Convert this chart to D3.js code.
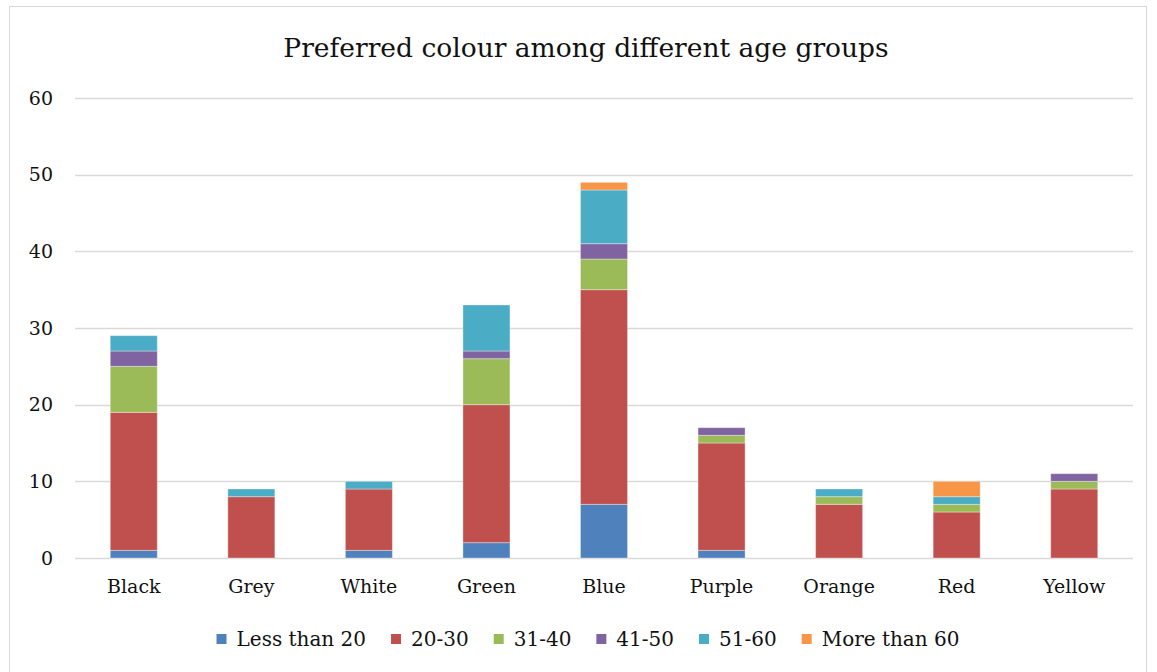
<!DOCTYPE html>
<html>
<head>
<meta charset="utf-8">
<script src="https://cdn.jsdelivr.net/npm/d3@7"></script>
<style>
  html, body { margin: 0; padding: 0; background: #fff; }
  svg { display: block; font-family: "DejaVu Serif", "Liberation Serif", serif; }
</style>
</head>
<body>
<svg id="chart" width="1157" height="672"></svg>
<script>
// Colour names along the x axis
const categories = ["Black", "Grey", "White", "Green", "Blue", "Purple", "Orange", "Red", "Yellow"];

// Age groups (stack order, bottom to top)
const seriesNames = ["Less than 20", "20-30", "31-40", "41-50", "51-60", "More than 60"];
const seriesColors = ["#4F81BD", "#C0504D", "#9BBB59", "#8064A2", "#4BACC6", "#F79646"];

// Respondent counts per age group, one value per colour
const lessThan20 = [1, 0, 1, 2, 7, 1, 0, 0, 0];
const age20to30  = [18, 8, 8, 18, 28, 14, 7, 6, 9];
const age31to40  = [6, 0, 0, 6, 4, 1, 1, 1, 1];
const age41to50  = [2, 0, 0, 1, 2, 1, 0, 0, 1];
const age51to60  = [2, 1, 1, 6, 7, 0, 1, 1, 0];
const moreThan60 = [0, 0, 0, 0, 1, 0, 0, 2, 0];

const yTicks = [0, 10, 20, 30, 40, 50, 60];

const seriesValues = [lessThan20, age20to30, age31to40, age41to50, age51to60, moreThan60];
const rows = categories.map((c, i) => {
  const r = { category: c };
  seriesNames.forEach((s, k) => { r[s] = seriesValues[k][i]; });
  return r;
});

const FONT = "DejaVu Serif, Liberation Serif, serif";
const svg = d3.select("#chart");
const W = 1157, H = 672;
const margin = { left: 75, right: 24, top: 98, bottom: 114 };

// Outer chart frame
svg.append("rect")
  .attr("x", 9.5).attr("y", 6.5)
  .attr("width", W - 20).attr("height", H + 10)
  .attr("fill", "#fff").attr("stroke", "#d9d9d9").attr("stroke-width", 1);

const x = d3.scaleBand()
  .domain(categories)
  .range([margin.left, W - margin.right])
  .paddingInner(0.6).paddingOuter(0.3);

const y = d3.scaleLinear()
  .domain([0, 60])
  .range([H - margin.bottom, margin.top]);

// Gridlines
svg.append("g")
  .selectAll("line")
  .data(yTicks)
  .join("line")
  .attr("x1", margin.left).attr("x2", W - margin.right)
  .attr("y1", d => Math.round(y(d)) + 0.5).attr("y2", d => Math.round(y(d)) + 0.5)
  .attr("stroke", "#d9d9d9").attr("stroke-width", 1.5);

// Y axis labels
const yAxis = d3.axisLeft(y).tickValues(yTicks).tickSize(0).tickPadding(0);
svg.append("g")
  .attr("transform", `translate(${margin.left - 22},0)`)
  .call(yAxis)
  .call(g => g.select(".domain").remove())
  .call(g => g.selectAll("text")
    .attr("font-family", FONT)
    .attr("font-size", 19).attr("fill", "#111"));

// X axis labels
const xAxis = d3.axisBottom(x).tickSize(0).tickPadding(0);
svg.append("g")
  .attr("transform", `translate(0,${y(0) + 21})`)
  .call(xAxis)
  .call(g => g.select(".domain").remove())
  .call(g => g.selectAll("text")
    .attr("font-family", FONT)
    .attr("font-size", 19).attr("fill", "#111"));

// Stacked bars
const stack = d3.stack().keys(seriesNames);
const layers = stack(rows);

svg.append("g")
  .selectAll("g")
  .data(layers)
  .join("g")
  .attr("fill", (d, i) => seriesColors[i])
  .selectAll("rect")
  .data(d => d.filter(p => p[1] - p[0] > 0))
  .join("rect")
  .attr("x", d => x(d.data.category))
  .attr("width", x.bandwidth())
  .attr("y", d => y(d[1]))
  .attr("height", d => y(d[0]) - y(d[1]))
  .attr("stroke", "rgba(255,255,255,0.35)")
  .attr("stroke-width", 1);

// Title
svg.append("text")
  .attr("x", 586).attr("y", 57)
  .attr("text-anchor", "middle")
  .attr("font-family", FONT)
  .attr("font-size", 26.5).attr("fill", "#111")
  .text("Preferred colour among different age groups");

// Legend: items laid out left to right, centred under the plot
const legend = svg.append("g").attr("transform", "translate(0,639)");
const items = legend.selectAll("g")
  .data(seriesNames)
  .join("g");
items.append("rect").attr("x", 0).attr("y", -5).attr("width", 10).attr("height", 10)
  .attr("fill", (d, i) => seriesColors[i]);
items.append("text").attr("x", 20).attr("y", 0).attr("dy", "0.35em")
  .attr("font-family", FONT)
  .attr("font-size", 20).attr("fill", "#111").text(d => d);

const gap = 25;
const widths = [];
items.each(function () { widths.push(20 + this.querySelector("text").getComputedTextLength()); });
const total = d3.sum(widths) + gap * (widths.length - 1);
let cx = 588 - total / 2;
items.attr("transform", (d, i) => {
  const t = `translate(${cx},0)`;
  cx += widths[i] + gap;
  return t;
});
</script>
</body>
</html>
